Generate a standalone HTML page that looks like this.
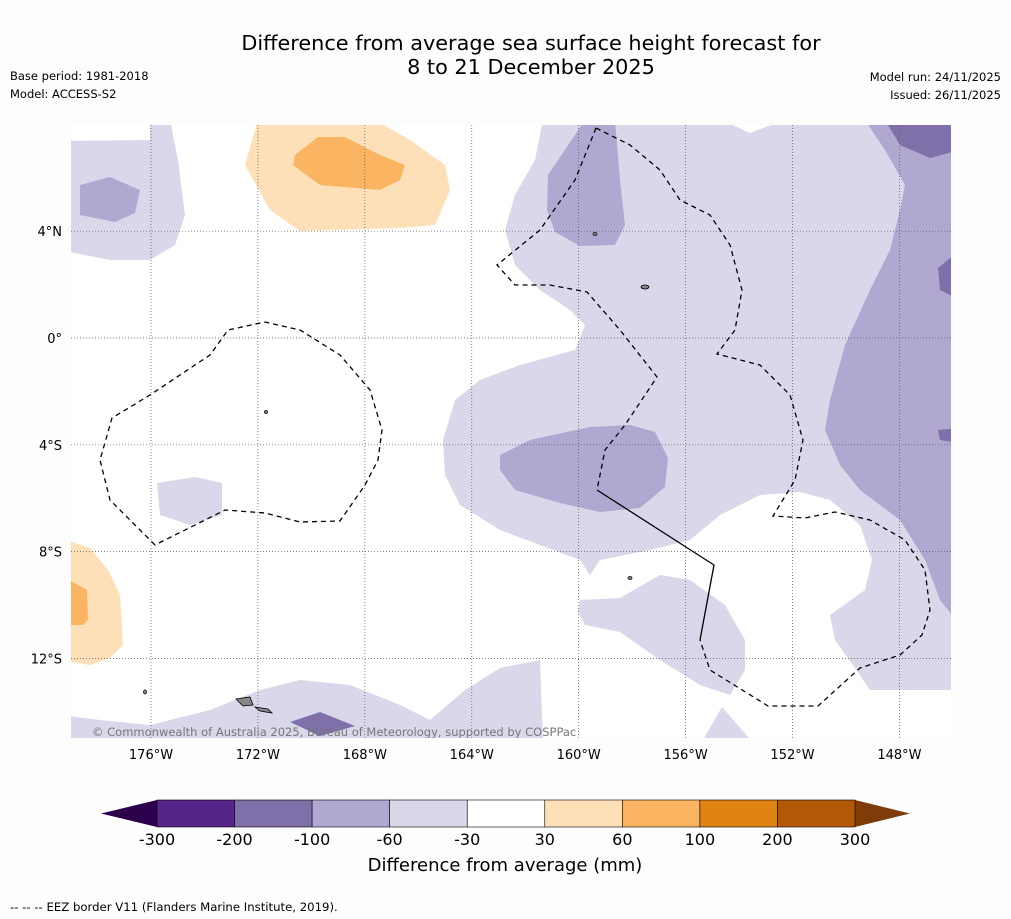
<!DOCTYPE html>
<html><head><meta charset="utf-8"><style>
body{margin:0;background:#fdfdfd;font-family:"DejaVu Sans","Liberation Sans",sans-serif}
svg{display:block}
</style></head><body>
<svg id="chart" width="1011" height="919" xmlns="http://www.w3.org/2000/svg" font-family="DejaVu Sans, Liberation Sans, sans-serif">
<rect width="1011" height="919" fill="#fdfdfd"/>
<text x="531" y="50" font-size="20.8" text-anchor="middle">Difference from average sea surface height forecast for</text>
<text x="531" y="74" font-size="20.8" text-anchor="middle">8 to 21 December 2025</text>
<text x="10" y="80" font-size="11.5">Base period: 1981-2018</text>
<text x="10" y="98" font-size="11.5">Model: ACCESS-S2</text>
<text x="1001" y="81" font-size="11.5" text-anchor="end">Model run: 24/11/2025</text>
<text x="1001" y="99" font-size="11.5" text-anchor="end">Issued: 26/11/2025</text>
<defs><clipPath id="mc"><rect x="71" y="125" width="880" height="613"/></clipPath></defs>
<g clip-path="url(#mc)">
<rect x="71" y="125" width="880" height="613" fill="#ffffff"/>
<g fill="#d8d8ea">
<polygon points="60,141 150,140 150,120 170,120 178,160 185,215 175,245 150,260 110,260 60,250"/>
<polygon points="543,120 722,120 750,133 785,120 960,120 960,690 870,690 855,668 835,640 830,615 865,590 872,560 860,525 830,500 800,492 760,495 720,515 690,540 650,550 600,560 590,575 580,560 540,545 500,530 460,505 445,475 443,440 455,400 480,380 520,365 575,350 585,325 570,310 540,290 515,265 505,230 515,195 535,160"/>
<polygon points="580,600 620,598 660,575 690,580 725,605 745,640 745,670 730,695 700,685 660,660 620,632 585,625 578,612"/>
<polygon points="60,715 100,720 150,725 210,710 260,690 300,680 350,685 400,705 430,720 465,690 500,668 540,660 543,745 60,745"/>
<polygon points="157,483 195,477 222,483 222,515 190,525 160,515"/>
<polygon points="700,745 722,707 755,745"/>
</g>
<g fill="#b0a8d0">
<polygon points="80,185 110,177 140,190 135,213 115,222 80,215"/>
<polygon points="548,175 585,120 615,120 620,180 625,225 615,245 580,246 555,232 547,210"/>
<polygon points="500,455 530,440 590,427 630,425 655,432 668,458 665,487 640,508 600,512 560,503 515,490 500,470"/>
<polygon points="865,120 960,120 960,625 940,600 925,560 900,520 860,490 840,465 825,430 830,400 845,345 870,290 890,250 900,210 905,185 885,150"/>
</g>
<g fill="#8070aa">
<polygon points="885,120 960,120 960,150 930,158 900,145"/>
<polygon points="960,250 938,268 940,290 960,300"/>
<polygon points="938,430 960,428 960,443 940,440"/>
<polygon points="290,722 320,712 355,726 320,736"/>
</g>
<g fill="#fde0b8">
<polygon points="258,120 375,120 410,140 445,165 450,190 435,225 400,228 300,231 270,210 245,165"/>
<polygon points="60,538 90,548 108,570 120,595 123,645 110,658 90,665 60,660"/>
</g>
<g fill="#fbb562">
<polygon points="295,155 318,137 345,137 380,155 405,165 400,180 380,190 320,185 293,165"/>
<polygon points="60,575 87,590 88,620 83,625 60,625"/>
</g>
<g id="grid" stroke="#555" stroke-width="0.7" stroke-dasharray="1,2"></g>
<g fill="none" stroke="#000" stroke-width="1.3" stroke-dasharray="5,4">
<polyline points="155,545 110,500 100,460 112,418 150,395 210,355 228,330 265,322 300,330 340,355 370,390 382,430 378,460 365,485 340,521 300,522 265,513 225,510 155,545"/>
<polyline points="596,128 630,145 660,170 680,200 710,215 730,245 742,290 735,330 717,354 760,365 790,395 803,440 795,480 773,516 805,518 835,512 870,520 905,540 925,570 930,610 922,635 900,655 860,668 818,706 768,706 710,670 700,640"/>
<polyline points="596,128 575,180 540,230 497,265 515,285 550,285 587,292 620,330 657,377 645,395 625,425 605,450 597,490"/>
</g>
<polyline points="597,490 714,565 700,640" fill="none" stroke="#000" stroke-width="1.3"/>
<g fill="#888" stroke="#000" stroke-width="0.8">
<polygon points="236,699 250,697 253,705 243,706"/>
<polygon points="255,707 268,709 272,713 260,711"/>
<ellipse cx="645" cy="287" rx="4" ry="2"/><ellipse cx="595" cy="234" rx="2" ry="1.5"/>
<ellipse cx="145" cy="692" rx="1.5" ry="2"/><ellipse cx="266" cy="412" rx="1.5" ry="1.5"/>
<ellipse cx="630" cy="578" rx="2" ry="1.5"/>
</g>
<text x="92" y="736" font-size="11.5" fill="#777">© Commonwealth of Australia 2025, Bureau of Meteorology, supported by COSPPac</text>
</g>
<g id="axes" font-size="13"></g>
<g id="cbar"></g>
<text x="505" y="871" font-size="18" text-anchor="middle">Difference from average (mm)</text>
<text x="10" y="911" font-size="11.7">--  --  -- EEZ border V11 (Flanders Marine Institute, 2019).</text>
</svg>
<script>
const lonTicks=[-176,-172,-168,-164,-160,-156,-152,-148];
const latTicks=[4,0,-4,-8,-12];
const cbarLevels=["-300","-200","-100","-60","-30","30","60","100","200","300"];
const cbarColors=["#562588","#8070aa","#b0a8d0","#d8d8ea","#ffffff","#fde0b8","#fbb562","#e08214","#b35806"];
const NS="http://www.w3.org/2000/svg";
const xLon=l=>151+(l+176)*26.73;
const yLat=l=>338-l*26.7;
function mk(t,a,p){const e=document.createElementNS(NS,t);for(const k in a)e.setAttribute(k,a[k]);p.appendChild(e);return e;}
const grid=document.getElementById('grid'),axes=document.getElementById('axes'),cb=document.getElementById('cbar');
lonTicks.forEach(l=>{const x=xLon(l);
const g=mk('line',{x1:x,x2:x,y1:125,y2:738},grid);


const t=mk('text',{x:x,y:759,'text-anchor':'middle'},axes);t.textContent=Math.abs(l)+'°W';

});
latTicks.forEach(l=>{const y=yLat(l);
const g=mk('line',{x1:71,x2:951,y1:y,y2:y},grid);


const t=mk('text',{x:62,y:y+5,'text-anchor':'end'},axes);t.textContent=l===0?'0°':Math.abs(l)+'°'+(l>0?'N':'S');

});
const x0=157,x1=855,w=(x1-x0)/cbarColors.length,cy0=800,cy1=827;
const lt=mk('polygon',{points:`${x0},${cy0} ${x0},${cy1} 101,813.5`,fill:'#2d004b'},cb);


const rt=mk('polygon',{points:`${x1},${cy0} ${x1},${cy1} 910,813.5`,fill:'#7f3b08'},cb);


cbarColors.forEach((c,i)=>{const r=mk('rect',{x:x0+i*w,y:cy0,width:w,height:cy1-cy0,fill:c,stroke:'#000','stroke-width':0.6},cb);

});
cbarLevels.forEach((v,i)=>{const t=mk('text',{x:x0+i*w,y:845,'text-anchor':'middle','font-size':16},cb);t.textContent=v;

});
</script>
</body></html>
